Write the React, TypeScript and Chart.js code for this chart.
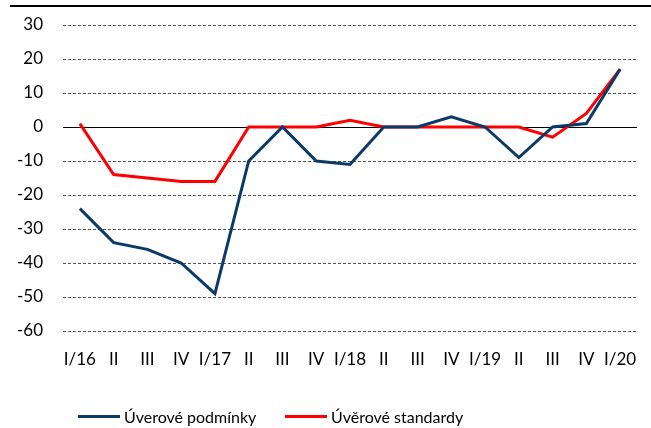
import React, { useEffect, useRef } from "react";
import { Chart, registerables } from "chart.js";

Chart.register(...registerables);

const categories = ["I/16", "II", "III", "IV", "I/17", "II", "III", "IV", "I/18", "II", "III", "IV", "I/19", "II", "III", "IV", "I/20"];
const uverovePodminky = [-24, -34, -36, -40, -49, -10, 0, -10, -11, 0, 0, 3, 0, -9, 0, 1, 17];
const uveroveStandardy = [1, -14, -15, -16, -16, 0, 0, 0, 2, 0, 0, 0, 0, 0, -3, 4, 17];
const seriesNames = ["Úverové podmínky", "Úvěrové standardy"];
const seriesColors = ["#0b3a68", "#ff0000"];

const FONT = "Lato, 'Open Sans', sans-serif";

const zeroLine = {
  id: "zeroLine",
  beforeDatasetsDraw(chart: any) {
    const y = chart.scales.y.getPixelForValue(0);
    const { left, right } = chart.chartArea;
    const ctx = chart.ctx;
    ctx.save();
    ctx.strokeStyle = "#000";
    ctx.lineWidth = 1;
    ctx.beginPath();
    ctx.moveTo(left, Math.round(y) + 0.5);
    ctx.lineTo(right, Math.round(y) + 0.5);
    ctx.stroke();
    ctx.restore();
  },
};

export default function App() {
  const ref = useRef<HTMLCanvasElement | null>(null);
  useEffect(() => {
    document.body.style.margin = "0";
    const chart = new Chart(ref.current as HTMLCanvasElement, {
      type: "line",
      data: {
        labels: categories,
        datasets: [
          { label: seriesNames[0], data: uverovePodminky, borderColor: seriesColors[0], borderWidth: 3, pointRadius: 0, tension: 0 },
          { label: seriesNames[1], data: uveroveStandardy, borderColor: seriesColors[1], borderWidth: 3, pointRadius: 0, tension: 0 },
        ],
      },
      options: {
        animation: false,
        responsive: false,
        layout: { padding: { top: 25, right: 14, bottom: 57, left: 0 } },
        plugins: { legend: { display: false }, tooltip: { enabled: false } },
        scales: {
          x: {
            offset: true,
            grid: { display: false },
            border: { display: false },
            ticks: { color: "#000", font: { family: FONT, size: 17 }, padding: 10, maxRotation: 0, autoSkip: false },
            afterFit: (s: any) => { s.height = 40; },
          },
          y: {
            min: -60,
            max: 30,
            ticks: { stepSize: 10, color: "#000", font: { family: FONT, size: 17 }, padding: 0 },
            grid: {
              color: (c: any) => (c.tick && c.tick.value === 0 ? "rgba(0,0,0,0)" : "#555"),
              lineWidth: 1,
              drawTicks: true,
              tickLength: 20,
              tickColor: "rgba(0,0,0,0)",
            },
            border: { display: false, dash: [3, 2] },
            afterFit: (s: any) => { s.width = 63; },
          },
        },
      },
      plugins: [zeroLine],
    });
    return () => chart.destroy();
  }, []);

  const legendItem = (i: number, left: number) => (
    <div style={{ position: "absolute", left, top: 407, display: "flex", alignItems: "center", fontFamily: FONT, fontSize: 16, color: "#000", whiteSpace: "nowrap" }}>
      <div style={{ width: 42, height: 3, background: seriesColors[i], marginRight: 4 }} />
      <span>{seriesNames[i]}</span>
    </div>
  );

  return (
    <div style={{ position: "relative", width: 651, height: 428, overflow: "hidden", background: "#fff" }}>
      <div style={{ position: "absolute", left: 10, top: 5, width: 641, height: 2, background: "#000" }} />
      <canvas ref={ref} width={651} height={428} style={{ position: "absolute", left: 0, top: 0 }} />
      {legendItem(0, 78)}
      {legendItem(1, 285)}
    </div>
  );
}
